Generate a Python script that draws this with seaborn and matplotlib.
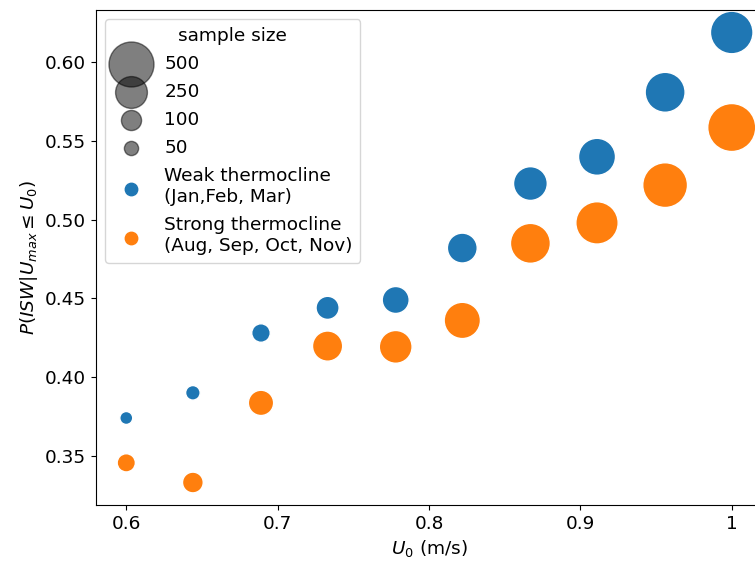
import pandas as pd
import numpy as np
import seaborn as sns
import matplotlib.pyplot as plt
from matplotlib.ticker import FuncFormatter, MultipleLocator

plt.rcParams['font.size'] = 13.3

# threshold speeds U0 (m/s)
u0 = [0.6, 0.644, 0.689, 0.733, 0.778, 0.822, 0.867, 0.911, 0.956, 1.0]
# probabilities
p_weak = [0.374, 0.390, 0.428, 0.444, 0.449, 0.482, 0.523, 0.540, 0.581, 0.619]
p_strong = [0.3455, 0.333, 0.3836, 0.4197, 0.4192, 0.436, 0.485, 0.498, 0.522, 0.5586]
# sample sizes
n_weak = [46, 58, 94, 146, 199, 244, 312, 374, 436, 495]
n_strong = [91, 118, 175, 249, 294, 360, 436, 490, 548, 630]

legend_sizes = [500, 250, 100, 50]
weak_label = "Weak thermocline\n(Jan,Feb, Mar)"
strong_label = "Strong thermocline\n(Aug, Sep, Oct, Nov)"
colors = ["#1f77b4", "#ff7f0e"]

df = pd.DataFrame({
    "u0": u0 + u0,
    "p": p_weak + p_strong,
    "n": n_weak + n_strong,
    "group": ["weak"] * len(u0) + ["strong"] * len(u0),
})

fig = plt.figure(figsize=(7.55, 5.68), dpi=100)
ax = fig.add_axes([96 / 755, 63 / 568, 666 / 755, 495 / 568])

sns.scatterplot(data=df, x="u0", y="p", hue="group", size="n",
                palette=colors, sizes=(0, 1900), size_norm=(0, 1000),
                legend=False, ax=ax)

for s in legend_sizes:
    ax.scatter([], [], s=2.1 * s, color="k", alpha=0.5, label=str(s))
ax.scatter([], [], s=80, color=colors[0], label=weak_label)
ax.scatter([], [], s=80, color=colors[1], label=strong_label)
ax.legend(title="sample size", loc="upper left", title_fontsize=13.3,
          labelspacing=0.55)

ax.xaxis.set_major_locator(MultipleLocator(0.1))
ax.xaxis.set_major_formatter(FuncFormatter(lambda v, pos: f"{v:g}"))
ax.set_xlabel("$U_0$ (m/s)")
ax.set_ylabel("$P(ISW|U_{max} \\leq U_0)$")

fig.savefig("out.png", dpi=100)
